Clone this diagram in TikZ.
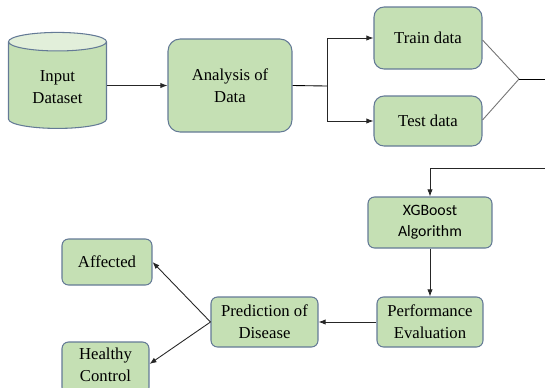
\documentclass[tikz,border=0pt]{standalone}
\usepackage{fontspec}
\setmainfont{Liberation Serif}
\newfontfamily\serifface{Liberation Serif}
\newfontfamily\califont{Carlito}
\usetikzlibrary{shapes.geometric,arrows.meta}
\definecolor{boxfill}{RGB}{197,224,180}
\definecolor{boxtop}{RGB}{226,239,218}
\definecolor{boxline}{RGB}{100,122,150}
\tikzset{
  stage/.style={draw=boxline,fill=boxfill,rounded corners=0.13cm,line width=0.6pt,
    align=center,inner sep=1pt,font=\serifface\fontsize{9.5}{12.5}\selectfont},
  flow/.style={-{Latex[length=4pt,width=3pt]},line width=0.5pt,draw=black!85},
  mergeline/.style={line width=0.5pt,draw=black!55}
}
\begin{document}
\begin{tikzpicture}[x=0.02cm,y=-0.02cm]
            \useasboundingbox (0,0) rectangle (545,387);
            \clip (0,0) rectangle (545,387);
            % upper row
            \node[cylinder,shape border rotate=90,aspect=0.3,draw=boxline,line width=0.6pt,
              cylinder uses custom fill,cylinder body fill=boxfill,cylinder end fill=boxtop,
              minimum width=1.96cm,minimum height=1.92cm,align=center,
              font=\serifface\fontsize{9.5}{12.5}\selectfont] (in) at (57.5,87.5) {Input\\Dataset};
            \node[stage,rounded corners=0.24cm,minimum width=2.48cm,minimum height=1.86cm] (ana) at (230,85.5) {Analysis of\\Data};
            \node[stage,rounded corners=0.2cm,minimum width=2.16cm,minimum height=1.24cm] (train) at (428,38) {Train data};
            \node[stage,rounded corners=0.2cm,minimum width=2.16cm,minimum height=1cm] (test) at (428,121) {Test data};
            \coordinate (split) at (327,86);
            \coordinate (merge) at (519,79);
            \draw[flow] (in.east |- ana.west) -- (ana.west);
            \draw[line width=0.5pt] (ana.east) -- (split);
            \draw[flow] (split) |- (train.west);
            \draw[flow] (split) |- (test.west);
            \draw[mergeline] (train.east |- 0,40) -- (merge);
            \draw[mergeline] (test.east |- 0,120) -- (merge);
            \draw[line width=0.5pt] (merge) -- (545,79);
            % lower row
            \node[stage,font=\califont\fontsize{9}{12}\selectfont,minimum width=2.48cm,minimum height=1.02cm] (xgb) at (430,222.5) {XGBoost\\Algorithm};
            \node[stage,minimum width=2.12cm,minimum height=1cm] (perf) at (430,322) {Performance\\Evaluation};
            \node[stage,minimum width=2.14cm,minimum height=1cm] (pred) at (264.5,322) {Prediction of\\Disease};
            \node[stage,minimum width=1.8cm,minimum height=0.92cm] (aff) at (107,262) {Affected};
            \node[stage,minimum width=1.74cm,minimum height=1.04cm,text depth=4pt] (hc) at (105.5,368) {Healthy\\Control};
            \coordinate (back) at (545,168);
            \draw[flow] (back) -| (xgb.north);
            \draw[flow] (xgb) -- (perf);
            \draw[flow] (perf) -- (pred);
            \draw[flow] (pred.west) -- (aff.east);
            \draw[flow] (pred.west) -- (hc.east |- 0,364);
\end{tikzpicture}
\end{document}
